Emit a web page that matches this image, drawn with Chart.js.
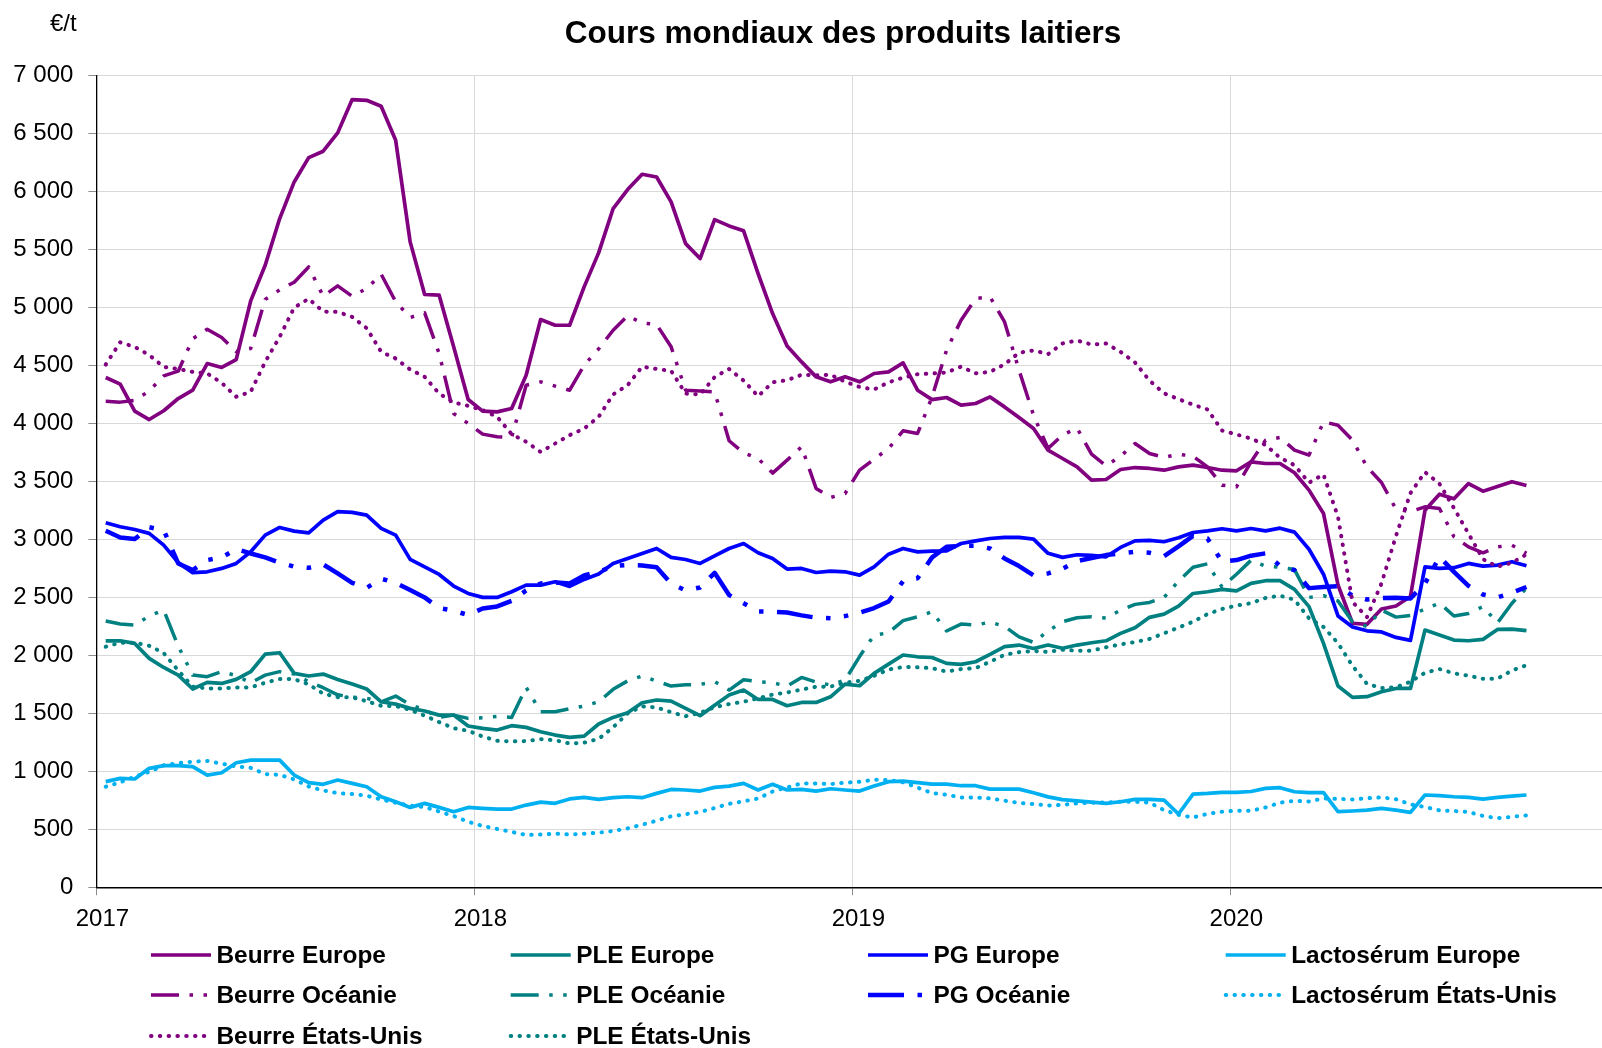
<!DOCTYPE html>
<html lang="fr">
<head>
<meta charset="utf-8">
<title>Cours mondiaux des produits laitiers</title>
<script src="https://cdn.jsdelivr.net/npm/chart.js@4.4.1/dist/chart.umd.min.js"></script>
<style>
html,body{margin:0;padding:0;background:#fff;}
#wrap{width:1602px;height:1048px;position:relative;}
canvas{display:block;}
</style>
</head>
<body>
<div id="wrap"><canvas id="c" width="1602" height="1048"></canvas></div>
<script>
// ---------- DATA ----------
const titleText = 'Cours mondiaux des produits laitiers';
const unitText = '€/t';
const yearLabels = ['2017', '2018', '2019', '2020'];

const dates = [
 '2017-01-10','2017-01-24','2017-02-07','2017-02-21','2017-03-07','2017-03-21','2017-04-04','2017-04-18','2017-05-02','2017-05-16',
 '2017-05-30','2017-06-13','2017-06-27','2017-07-11','2017-07-25','2017-08-08','2017-08-22','2017-09-05','2017-09-19','2017-10-03',
 '2017-10-17','2017-10-31','2017-11-14','2017-11-28','2017-12-12','2017-12-26',
 '2018-01-09','2018-01-23','2018-02-06','2018-02-20','2018-03-06','2018-03-20','2018-04-03','2018-04-17','2018-05-01','2018-05-15',
 '2018-05-29','2018-06-12','2018-06-26','2018-07-10','2018-07-24','2018-08-07','2018-08-21','2018-09-04','2018-09-18','2018-10-02',
 '2018-10-16','2018-10-30','2018-11-13','2018-11-27','2018-12-11','2018-12-25',
 '2019-01-08','2019-01-22','2019-02-05','2019-02-19','2019-03-05','2019-03-19','2019-04-02','2019-04-16','2019-04-30','2019-05-14',
 '2019-05-28','2019-06-11','2019-06-25','2019-07-09','2019-07-23','2019-08-06','2019-08-20','2019-09-03','2019-09-17','2019-10-01',
 '2019-10-15','2019-10-29','2019-11-12','2019-11-26','2019-12-10','2019-12-24',
 '2020-01-07','2020-01-21','2020-02-04','2020-02-18','2020-03-03','2020-03-17','2020-03-31','2020-04-14','2020-04-28','2020-05-12',
 '2020-05-26','2020-06-09','2020-06-23','2020-07-07','2020-07-21','2020-08-04','2020-08-18','2020-09-01','2020-09-15','2020-09-29',
 '2020-10-13'
];

const beurreEurope = [
 4396,4339,4106,4034,4110,4215,4287,4517,4483,4551,
 5057,5365,5767,6083,6293,6348,6506,6793,6787,6736,
 6443,5566,5112,5106,4661,4207,4106,4100,4129,4416,
 4896,4847,4847,5178,5471,5853,6017,6149,6126,5911,
 5551,5422,5758,5704,5661,5293,4948,4669,4531,4402,
 4359,4402,4359,4431,4445,4523,4287,4206,4224,4158,
 4172,4229,4143,4051,3956,3770,3698,3626,3511,3517,
 3603,3620,3612,3597,3626,3641,3620,3597,3592,3669,
 3655,3655,3575,3425,3224,2607,2277,2268,2400,2426,
 2508,3251,3390,3350,3482,3416,3456,3498,3465
];
const pleEurope = [
 2126,2126,2103,1974,1896,1830,1710,1767,1758,1793,
 1859,2011,2023,1845,1822,1839,1793,1753,1710,1600,
 1580,1543,1520,1485,1485,1391,1370,1356,1394,1379,
 1342,1313,1293,1304,1408,1465,1505,1592,1615,1606,
 1543,1480,1571,1658,1701,1620,1620,1566,1594,1594,
 1643,1752,1738,1845,1925,2003,1988,1982,1931,1922,
 1945,2008,2075,2089,2060,2090,2062,2089,2109,2126,
 2190,2238,2328,2356,2425,2534,2549,2569,2557,2621,
 2644,2644,2569,2420,2103,1736,1638,1644,1687,1715,
 1715,2218,2175,2132,2126,2138,2224,2227,2213
];
const pgEurope = [
 3144,3109,3086,3052,2951,2800,2713,2721,2750,2793,
 2894,3037,3103,3072,3057,3167,3239,3233,3210,3095,
 3037,2828,2764,2698,2598,2534,2500,2500,2549,2606,
 2606,2635,2595,2655,2701,2793,2836,2879,2922,2845,
 2827,2793,2859,2922,2965,2885,2836,2744,2750,2715,
 2727,2721,2692,2764,2873,2922,2893,2899,2902,2965,
 2988,3008,3017,3017,3003,2880,2845,2868,2862,2850,
 2931,2988,2992,2980,3014,3060,3074,3092,3074,3094,
 3074,3097,3063,2915,2700,2340,2245,2212,2202,2155,
 2129,2764,2750,2756,2793,2770,2779,2808,2773
];
const lactoEurope = [
 911,939,934,1026,1049,1049,1040,968,988,1074,
 1097,1097,1097,968,902,888,925,896,867,781,
 738,689,724,689,652,689,681,675,675,709,
 735,724,762,775,758,773,781,773,810,844,
 839,830,862,873,896,839,888,839,844,830,
 850,839,830,873,911,916,902,890,890,876,
 876,847,847,847,816,780,756,746,734,724,
 738,758,758,752,632,804,810,819,819,826,
 853,859,824,816,816,652,658,666,681,666,
 646,796,790,781,776,761,776,787,796
];
const beurreOceanie = [
 4192,4184,4200,4280,4410,4451,4730,4813,4741,4620,
 4646,5070,5152,5218,5350,5097,5187,5097,5164,5287,
 5050,4914,4954,4603,4086,4000,3908,3885,3880,4330,
 4359,4322,4287,4503,4643,4804,4928,4867,4853,4661,
 4287,4281,4273,3851,3747,3698,3572,3684,3799,3440,
 3362,3396,3598,3692,3784,3937,3914,4229,4632,4890,
 5077,5092,4876,4459,4071,3784,3900,3960,3735,3635,
 3718,3827,3741,3707,3735,3718,3626,3468,3454,3669,
 3856,3879,3770,3727,4014,3985,3856,3626,3491,3261,
 3240,3281,3267,3023,2936,2885,2936,2950,2880
];
const pleOceanie = [
 2296,2270,2261,2340,2391,2080,1830,1816,1860,1825,
 1764,1830,1860,1839,1773,1721,1660,1640,1630,1600,
 1649,1575,1530,1465,1485,1457,1462,1474,1465,1724,
 1514,1514,1540,1563,1600,1707,1780,1822,1778,1735,
 1746,1750,1773,1701,1790,1773,1764,1735,1810,1770,
 1744,1787,1990,2175,2195,2300,2333,2376,2210,2270,
 2261,2287,2250,2160,2112,2210,2290,2325,2333,2322,
 2390,2440,2457,2500,2640,2760,2790,2590,2700,2820,
 2770,2760,2740,2500,2515,2470,2290,2250,2390,2330,
 2345,2400,2450,2340,2362,2420,2280,2450,2580
];
const pgOceanie = [
 3075,3017,3003,3105,3080,2793,2736,2822,2845,2917,
 2879,2845,2800,2765,2755,2784,2707,2626,2583,2661,
 2626,2563,2500,2408,2385,2348,2405,2422,2470,2560,
 2620,2630,2620,2690,2720,2770,2779,2776,2761,2620,
 2560,2586,2712,2520,2450,2379,2376,2370,2345,2325,
 2320,2339,2368,2408,2465,2640,2665,2845,2937,2945,
 2945,2922,2836,2770,2690,2707,2747,2813,2840,2865,
 2879,2893,2885,2856,2940,3030,3008,2807,2822,2860,
 2880,2773,2735,2580,2590,2597,2514,2482,2495,2497,
 2491,2620,2850,2720,2600,2525,2500,2540,2590
];
const lactoEtatsUnis = [
 867,905,955,995,1052,1072,1083,1090,1066,1042,
 1030,976,970,930,870,835,812,804,790,757,
 729,704,692,653,615,565,530,503,478,451,
 455,462,456,462,471,485,508,540,575,612,
 630,650,684,720,742,766,826,862,896,896,
 890,902,910,927,926,905,860,812,798,775,
 773,767,747,728,718,705,711,724,730,731,
 738,738,730,665,625,602,634,652,661,660,
 688,730,746,740,766,762,758,768,775,760,
 715,693,663,658,650,615,596,608,620
];
const beurreEtatsUnis = [
 4508,4700,4660,4590,4488,4470,4445,4431,4350,4230,
 4273,4531,4747,5000,5075,4965,4962,4919,4822,4618,
 4560,4465,4402,4258,4181,4152,4115,4057,3908,3842,
 3755,3827,3899,3956,4057,4250,4330,4490,4470,4454,
 4258,4250,4400,4470,4370,4235,4355,4373,4420,4416,
 4420,4360,4315,4293,4355,4395,4425,4431,4440,4490,
 4432,4445,4510,4610,4630,4598,4690,4716,4680,4690,
 4618,4526,4370,4260,4210,4162,4121,3940,3905,3870,
 3815,3705,3640,3490,3560,3195,2460,2330,2620,3030,
 3400,3580,3480,3270,3050,2830,2765,2800,2870
];
const pleEtatsUnis = [
 2075,2110,2110,2083,2020,1870,1730,1715,1715,1724,
 1724,1764,1797,1795,1750,1670,1640,1638,1605,1565,
 1563,1530,1480,1425,1372,1350,1300,1263,1258,1261,
 1278,1268,1240,1247,1280,1380,1500,1560,1551,1510,
 1475,1505,1553,1580,1600,1630,1662,1680,1705,1730,
 1731,1765,1780,1824,1878,1900,1897,1890,1860,1882,
 1890,1945,2005,2028,2038,2030,2049,2040,2040,2070,
 2095,2115,2142,2190,2240,2290,2356,2400,2430,2450,
 2495,2515,2480,2320,2245,2105,1910,1755,1718,1725,
 1773,1850,1882,1845,1825,1798,1800,1870,1915
];

const seriesNames = [
 'Beurre Europe', 'PLE Europe', 'PG Europe', 'Lactosérum Europe',
 'Beurre Océanie', 'PLE Océanie', 'PG Océanie', 'Lactosérum États-Unis',
 'Beurre États-Unis', 'PLE États-Unis'
];
const seriesValues = [
 beurreEurope, pleEurope, pgEurope, lactoEurope,
 beurreOceanie, pleOceanie, pgOceanie, lactoEtatsUnis,
 beurreEtatsUnis, pleEtatsUnis
];

// ---------- STYLES ----------
const FONT = '"Liberation Sans", Arial, Helvetica, sans-serif';
const PURPLE = '#800080', TEAL = '#008080', BLUE = '#0000FF', SKY = '#00B0F0';
const solid = (c) => ({ borderColor: c, borderWidth: 3.7, borderDash: [], borderCapStyle: 'butt', borderJoinStyle: 'round' });
const dashDotDot = (c, w) => ({ borderColor: c, borderWidth: w, borderDash: [8*w, 3*w, w, 3*w, w, 3*w], borderCapStyle: 'butt', borderJoinStyle: 'round' });
const dotted = (c) => ({ borderColor: c, borderWidth: 4, borderDash: [0.5, 8.3], borderCapStyle: 'round', borderJoinStyle: 'round' });
const seriesStyles = [
 solid(PURPLE), solid(TEAL), solid(BLUE), solid(SKY),
 dashDotDot(PURPLE, 3.5), dashDotDot(TEAL, 3.5), dashDotDot(BLUE, 4.5), dotted(SKY),
 dotted(PURPLE), dotted(TEAL)
];

// ---------- HELPERS ----------
const ORIGIN = Date.UTC(2017, 0, 1);
function dayOf(iso) {
  const [y, m, d] = iso.split('-').map(Number);
  return (Date.UTC(y, m - 1, d) - ORIGIN) / 86400000;
}
const xs = dates.map(dayOf);
const yearTicks = yearLabels.map(y => (Date.UTC(+y, 0, 1) - ORIGIN) / 86400000);
const fmt = (v) => String(v).replace(/\B(?=(\d{3})+(?!\d))/g, ' ');

// Geometry of the plot area
const PLOT_LEFT = 96.4, PLOT_TOP = 75.6, PLOT_BOTTOM = 887.3, CANVAS_W = 1602, CANVAS_H = 1048;
const PX_PER_DAY = (1230.3 - 96.4) / 1095;
const X_MAX = (CANVAS_W - PLOT_LEFT) / PX_PER_DAY;
const X_AXIS_H = 44;

const datasets = seriesNames.map((name, k) => Object.assign({
  label: name,
  data: seriesValues[k].map((v, i) => ({ x: xs[i], y: v })),
  pointRadius: 0,
  pointHoverRadius: 0,
  tension: 0,
  fill: false,
  order: -k
}, seriesStyles[k]));

const legendCols = [151, 510.7, 868, 1225.7];
const legendRows = [955, 995, 1036];

const decor = {
  id: 'decor',
  afterDraw(chart) {
    const ctx = chart.ctx;
    ctx.save();
    ctx.fillStyle = '#000';
    ctx.textBaseline = 'middle';
    ctx.font = 'bold 31.5px ' + FONT;
    ctx.textAlign = 'center';
    ctx.fillText(titleText, 843, 34);
    ctx.font = '24px ' + FONT;
    ctx.textAlign = 'left';
    ctx.fillText(unitText, 50, 24);
    seriesNames.forEach((name, k) => {
      const ds = chart.data.datasets[k];
      const x0 = legendCols[k % 4], y = legendRows[Math.floor(k / 4)];
      ctx.beginPath();
      ctx.lineWidth = ds.borderWidth;
      ctx.strokeStyle = ds.borderColor;
      ctx.setLineDash(ds.borderDash);
      ctx.lineCap = ds.borderCapStyle;
      ctx.moveTo(x0, y);
      ctx.lineTo(x0 + 60, y);
      ctx.stroke();
      ctx.setLineDash([]);
      ctx.font = 'bold 24.4px ' + FONT;
      ctx.fillStyle = '#000';
      ctx.textAlign = 'left';
      ctx.fillText(name, x0 + 65.5, y + 1);
    });
    ctx.restore();
  }
};

Chart.defaults.font.family = FONT;
Chart.defaults.color = '#000';

new Chart(document.getElementById('c'), {
  type: 'line',
  data: { datasets },
  options: {
    responsive: false,
    animation: false,
    devicePixelRatio: 1,
    layout: { padding: { left: 0, right: 0, top: PLOT_TOP, bottom: CANVAS_H - PLOT_BOTTOM - X_AXIS_H } },
    plugins: { legend: { display: false }, title: { display: false }, tooltip: { enabled: false } },
    scales: {
      x: {
        type: 'linear',
        min: 0,
        max: X_MAX,
        afterBuildTicks: (scale) => { scale.ticks = yearTicks.map(v => ({ value: v })); },
        afterFit: (scale) => { scale.height = X_AXIS_H; },
        ticks: {
          autoSkip: false,
          maxRotation: 0,
          font: { size: 24 },
          color: '#000',
          padding: 10,
          labelOffset: 6,
          callback: (v) => { const k = yearTicks.indexOf(v); return k >= 0 ? yearLabels[k] : ''; }
        },
        grid: { color: '#d9d9d9', lineWidth: 1, tickLength: 8, tickColor: '#8c8c8c' },
        border: { display: true, color: '#000', width: 1.6 }
      },
      y: {
        min: 0,
        max: 7000,
        afterFit: (scale) => { scale.width = PLOT_LEFT; },
        ticks: { stepSize: 500, font: { size: 24 }, color: '#000', padding: 15, callback: (v) => fmt(v) },
        grid: { color: '#d9d9d9', lineWidth: 1, tickLength: 8, tickColor: '#8c8c8c' },
        border: { display: true, color: '#000', width: 1.3 }
      }
    }
  },
  plugins: [decor]
});
</script>
</body>
</html>
